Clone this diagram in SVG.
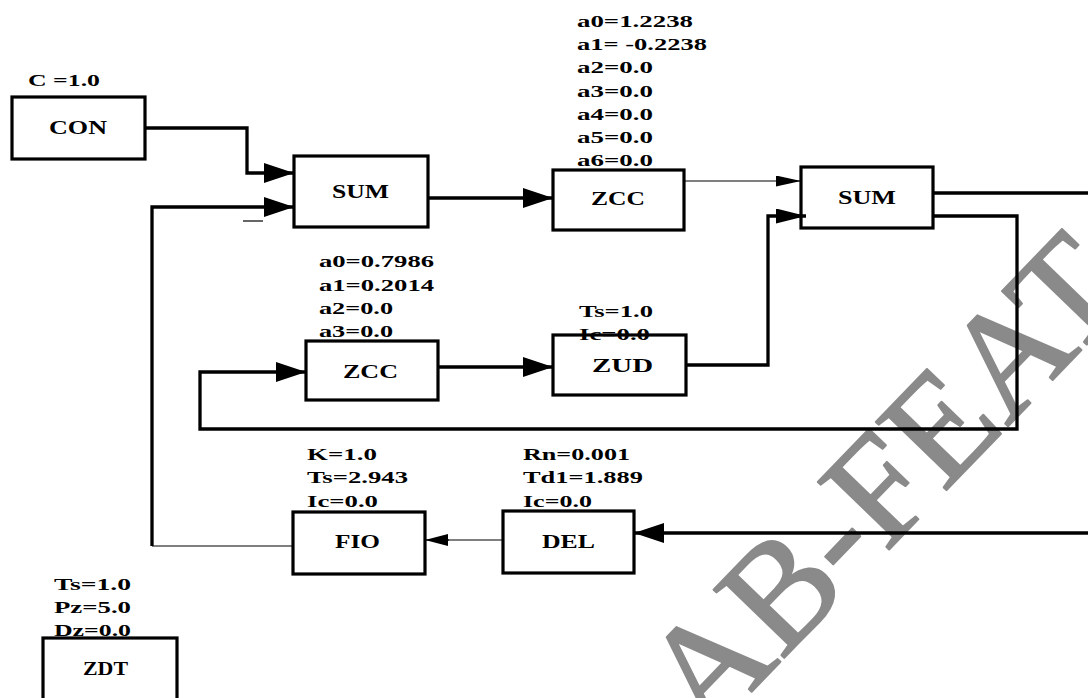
<svg xmlns="http://www.w3.org/2000/svg" width="1088" height="698" viewBox="0 0 1088 698">
<style>
.box{fill:none;stroke:#000;stroke-width:3.2}
.t{font-family:"Liberation Serif","Times New Roman",serif;font-weight:bold;fill:#000}
.p{font-size:17px}
.n{font-size:19px}
.thick{fill:none;stroke:#000;stroke-width:3.3}
.thin{fill:none;stroke:#000;stroke-width:1.2}
.gray{fill:none;stroke:#555;stroke-width:1.3}
.wm{font-family:"Liberation Serif","Times New Roman",serif;font-size:150px;fill:#8a8a8a;stroke:#8a8a8a;stroke-width:2;stroke-linejoin:round}
</style>
<defs>
<marker id="big" markerUnits="userSpaceOnUse" markerWidth="30" markerHeight="20" viewBox="0 0 30 20" refX="30" refY="10" orient="auto"><path d="M0,0 L30,10 L0,20 z" fill="#000"/></marker>
<marker id="med" markerUnits="userSpaceOnUse" markerWidth="30" markerHeight="15" viewBox="0 0 30 15" refX="30" refY="7.5" orient="auto"><path d="M0,0 L30,7.5 L0,15 z" fill="#000"/></marker>
<marker id="sm" markerUnits="userSpaceOnUse" markerWidth="25" markerHeight="11" viewBox="0 0 25 11" refX="25" refY="5.5" orient="auto"><path d="M0,0 L25,5.5 L0,11 z" fill="#000"/></marker>
<marker id="gr" markerUnits="userSpaceOnUse" markerWidth="23" markerHeight="12" viewBox="0 0 23 12" refX="23" refY="6" orient="auto"><path d="M0,0 L23,6 L0,12 z" fill="#000"/></marker>
</defs>
<rect width="1088" height="698" fill="#fff"/>
<text class="wm" transform="translate(706,739) rotate(-46)">AB-FEAT</text>
<g id="connectors">
<path class="thick" d="M145,128 H247 V173 H294" marker-end="url(#big)"/>
<path class="gray" d="M293,546 H152"/>
<path class="thick" d="M152,546 V207 H294" marker-end="url(#big)"/>
<line class="thin" x1="243" y1="221" x2="263" y2="221"/>
<path class="thick" d="M428,198 H553" marker-end="url(#big)"/>
<path class="thin" d="M684,181 H801" marker-end="url(#sm)"/>
<path class="thick" d="M686,365 H768 V216 H806" marker-end="url(#med)"/>
<path class="thick" d="M933,193 H1090"/>
<path class="thick" d="M933,216 H1017 V429 H200 V372 H306" marker-end="url(#big)"/>
<path class="thick" d="M438,367 H553" marker-end="url(#big)"/>
<path class="thick" d="M1090,533 H634" marker-end="url(#big)"/>
<path class="gray" d="M503,540 H448"/>
<path class="thin" d="M449,540 H425" marker-end="url(#gr)"/>
</g>
<g id="con">
<rect class="box" x="12" y="97" width="133" height="62"/>
<text class="t p" x="28" y="86" textLength="72" lengthAdjust="spacingAndGlyphs">C =1.0</text>
<text class="t n" x="49" y="134" textLength="58" lengthAdjust="spacingAndGlyphs">CON</text>
</g>
<g id="sum1">
<rect class="box" x="294" y="156" width="134" height="71"/>
<text class="t n" x="332" y="198" textLength="57" lengthAdjust="spacingAndGlyphs">SUM</text>
</g>
<g id="zcc1">
<rect class="box" x="553" y="170" width="131" height="60"/>
<text class="t n" x="591" y="205" textLength="54" lengthAdjust="spacingAndGlyphs">ZCC</text>
<text class="t p" x="577" y="27" textLength="116" lengthAdjust="spacingAndGlyphs">a0=1.2238</text>
<text class="t p" x="577" y="50" textLength="130" lengthAdjust="spacingAndGlyphs">a1= -0.2238</text>
<text class="t p" x="577" y="73" textLength="76" lengthAdjust="spacingAndGlyphs">a2=0.0</text>
<text class="t p" x="577" y="97" textLength="76" lengthAdjust="spacingAndGlyphs">a3=0.0</text>
<text class="t p" x="577" y="120" textLength="76" lengthAdjust="spacingAndGlyphs">a4=0.0</text>
<text class="t p" x="577" y="143" textLength="76" lengthAdjust="spacingAndGlyphs">a5=0.0</text>
<text class="t p" x="577" y="166" textLength="76" lengthAdjust="spacingAndGlyphs">a6=0.0</text>
</g>
<g id="sum2">
<rect class="box" x="801" y="167" width="132" height="61"/>
<text class="t n" x="838" y="204" textLength="58" lengthAdjust="spacingAndGlyphs">SUM</text>
</g>
<g id="zcc2">
<rect class="box" x="306" y="341" width="132" height="59"/>
<text class="t n" x="343" y="378" textLength="55" lengthAdjust="spacingAndGlyphs">ZCC</text>
<text class="t p" x="319" y="267" textLength="115" lengthAdjust="spacingAndGlyphs">a0=0.7986</text>
<text class="t p" x="319" y="291" textLength="115" lengthAdjust="spacingAndGlyphs">a1=0.2014</text>
<text class="t p" x="319" y="314" textLength="74" lengthAdjust="spacingAndGlyphs">a2=0.0</text>
<text class="t p" x="319" y="337" textLength="74" lengthAdjust="spacingAndGlyphs">a3=0.0</text>
</g>
<g id="zud">
<rect class="box" x="553" y="335" width="133" height="60"/>
<text class="t n" x="592" y="372" textLength="61" lengthAdjust="spacingAndGlyphs">ZUD</text>
<text class="t p" x="579" y="317" textLength="74" lengthAdjust="spacingAndGlyphs">Ts=1.0</text>
<text class="t p" x="579" y="340" textLength="71" lengthAdjust="spacingAndGlyphs">Ic=0.0</text>
</g>
<g id="fio">
<rect class="box" x="293" y="512" width="132" height="62"/>
<text class="t n" x="335" y="548" textLength="45" lengthAdjust="spacingAndGlyphs">FIO</text>
<text class="t p" x="307" y="460" textLength="70" lengthAdjust="spacingAndGlyphs">K=1.0</text>
<text class="t p" x="307" y="483" textLength="101" lengthAdjust="spacingAndGlyphs">Ts=2.943</text>
<text class="t p" x="307" y="507" textLength="71" lengthAdjust="spacingAndGlyphs">Ic=0.0</text>
</g>
<g id="del">
<rect class="box" x="503" y="511" width="131" height="62"/>
<text class="t n" x="542" y="548" textLength="53" lengthAdjust="spacingAndGlyphs">DEL</text>
<text class="t p" x="523" y="460" textLength="107" lengthAdjust="spacingAndGlyphs">Rn=0.001</text>
<text class="t p" x="523" y="483" textLength="120" lengthAdjust="spacingAndGlyphs">Td1=1.889</text>
<text class="t p" x="523" y="507" textLength="69" lengthAdjust="spacingAndGlyphs">Ic=0.0</text>
</g>
<g id="zdt">
<rect class="box" x="43" y="638" width="134" height="70"/>
<text class="t n" x="83" y="675" textLength="45" lengthAdjust="spacingAndGlyphs">ZDT</text>
<text class="t p" x="54" y="590" textLength="77" lengthAdjust="spacingAndGlyphs">Ts=1.0</text>
<text class="t p" x="54" y="613" textLength="77" lengthAdjust="spacingAndGlyphs">Pz=5.0</text>
<text class="t p" x="54" y="636" textLength="77" lengthAdjust="spacingAndGlyphs">Dz=0.0</text>
</g>
</svg>
